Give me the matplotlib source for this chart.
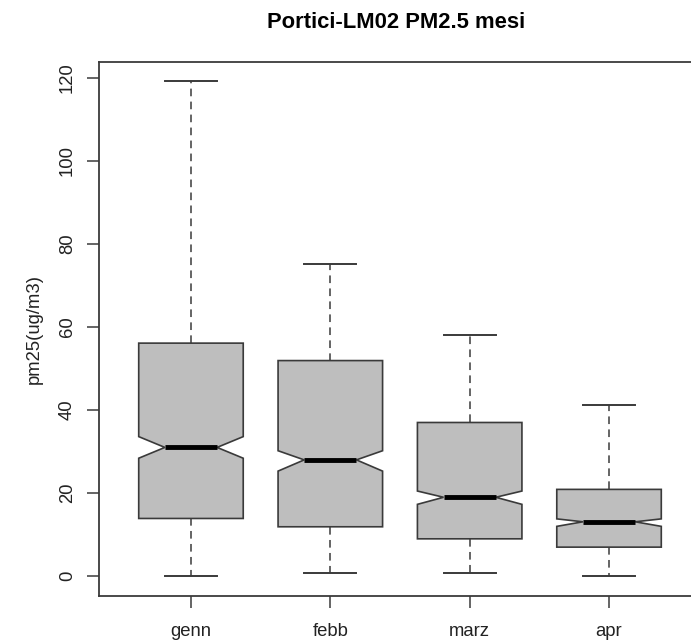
import matplotlib
matplotlib.use("Agg")
import matplotlib.pyplot as plt

plt.rcParams["font.family"] = ["Liberation Sans", "DejaVu Sans"]

# Monthly PM2.5 box statistics (ug/m3)
MONTHS = ["genn", "febb", "marz", "apr"]
WHISLO = [0.0, 0.7, 0.7, 0.0]
Q1 = [13.9, 11.9, 9.0, 7.0]
NOTCH_LO = [28.4, 25.3, 17.3, 12.0]
MEDIAN = [31.0, 28.0, 19.0, 13.1]
NOTCH_HI = [33.6, 30.2, 20.5, 13.8]
Q3 = [56.1, 51.9, 37.0, 20.9]
WHISHI = [119.2, 75.1, 58.0, 41.1]

LINE = "#3a3a3a"
FILL = "#bebebe"
TEXT = "#222222"

stats = []
for i, m in enumerate(MONTHS):
    stats.append(dict(label=m, whislo=WHISLO[i], q1=Q1[i], med=MEDIAN[i],
                      q3=Q3[i], whishi=WHISHI[i], cilo=NOTCH_LO[i],
                      cihi=NOTCH_HI[i], fliers=[]))

W, H = 691, 644
fig = plt.figure(figsize=(W / 100, H / 100), dpi=100)
# R-style plot region; right border falls outside the image
left, right, top, bottom = 99, 701, 62, 596
ax = fig.add_axes([left / W, 1 - bottom / H, (right - left) / W, (bottom - top) / H])

ax.bxp(stats, positions=range(1, len(MONTHS) + 1), widths=0.75,
       shownotches=True, patch_artist=True, showfliers=False,
       boxprops=dict(facecolor=FILL, edgecolor=LINE, linewidth=1.2),
       medianprops=dict(color="black", linewidth=3.5, solid_capstyle="butt"),
       whiskerprops=dict(color=LINE, linewidth=1.1, linestyle=(0, (5, 3.5))),
       capprops=dict(color=LINE, linewidth=1.4))

ax.set_xlim(0.34, 4.66)
ax.set_ylim(-4.76, 123.76)
ax.set_yticks([0, 20, 40, 60, 80, 100, 120])
ax.set_xticks(range(1, len(MONTHS) + 1))
ax.set_xticklabels(MONTHS)
ax.tick_params(axis="both", direction="out", length=8.5, width=1.1,
               color=LINE, labelsize=13.3, labelcolor=TEXT)
ax.tick_params(axis="x", pad=11)
ax.tick_params(axis="y", labelrotation=90, pad=8)
for lbl in ax.get_yticklabels():
    lbl.set_va("center")

for s in ax.spines.values():
    s.set_color(LINE)
    s.set_linewidth(1.3)

ax.set_ylabel("pm25(ug/m3)", fontsize=13.3, color=TEXT, labelpad=12)
fig.text(396 / W, 1 - 23 / H, "Portici-LM02 PM2.5 mesi", ha="center",
         va="center", fontsize=15.8, fontweight="bold")

fig.savefig("out.png", dpi=100)
